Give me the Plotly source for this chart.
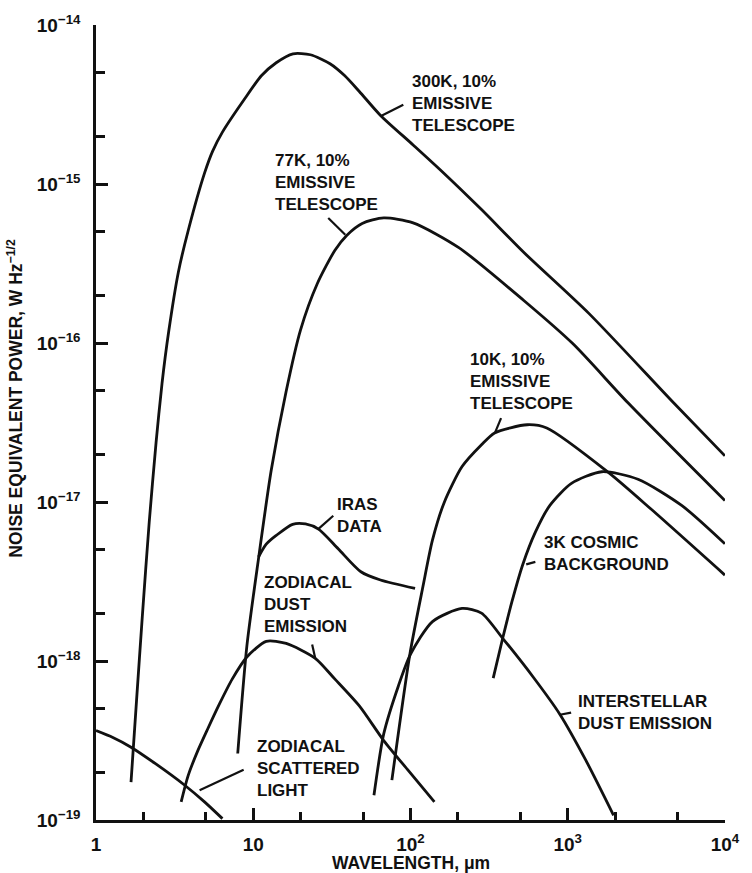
import numpy as np
import plotly.graph_objects as go

# ---- data (wavelength in micrometres, NEP in W Hz^-1/2) ----
wl_300k = [1.67, 1.81, 1.97, 2.18, 2.41, 2.63, 2.90, 3.34, 3.86, 4.90, 5.52, 6.37, 8.85, 11.3, 14.0, 17.9, 23.1,
           30.8, 38.1, 47.3, 64.5, 104, 160, 283, 525, 1368, 4732, 10000]
nep_300k = [1.73e-19, 5.61e-19, 1.90e-18, 7.46e-18, 2.36e-17, 5.58e-17, 1.18e-16, 2.79e-16, 5.10e-16,
            1.17e-15, 1.61e-15, 2.12e-15, 3.45e-15, 4.81e-15, 5.79e-15, 6.59e-15, 6.50e-15, 5.71e-15, 4.81e-15,
            3.82e-15, 2.70e-15, 1.76e-15, 1.19e-15, 6.90e-16, 3.72e-16, 1.53e-16, 4.19e-17, 1.95e-17]

wl_77k = [7.97, 9.11, 10.8, 13.0, 16.2, 20.0, 25.5, 33.1, 39.3, 49.3, 67.6, 104, 203, 526, 1077, 2427, 10000]
nep_77k = [2.62e-19, 1.24e-18, 4.39e-18, 1.57e-17, 4.97e-17, 1.21e-16, 2.35e-16, 3.83e-16, 4.75e-16,
           5.65e-16, 6.12e-16, 5.70e-16, 3.98e-16, 1.85e-16, 9.91e-17, 4.19e-17, 1.02e-17]

wl_10k = [76.2, 99.1, 120, 138, 164, 213, 283, 343, 553, 736, 1822, 3388, 10000]
nep_10k = [1.78e-19, 1.10e-18, 2.93e-18, 5.75e-18, 9.94e-18, 1.67e-17, 2.29e-17, 2.72e-17, 3.06e-17,
           2.92e-17, 1.53e-17, 9.03e-18, 3.47e-18]

wl_3k = [336, 386, 442, 517, 623, 771, 1057, 1648, 2800, 5333, 10000]
nep_3k = [7.81e-19, 1.39e-18, 2.36e-18, 4.02e-18, 6.46e-18, 9.53e-18, 1.31e-17, 1.55e-17, 1.39e-17,
          9.48e-18, 5.46e-18]

wl_ism = [58.6, 67.6, 83.8, 100, 138, 213, 283, 386, 608, 891, 1306, 1959]
nep_ism = [1.43e-19, 3.48e-19, 6.97e-19, 1.10e-18, 1.77e-18, 2.14e-18, 2.00e-18, 1.39e-18, 7.85e-19,
           4.63e-19, 2.37e-19, 1.07e-19]

wl_zodi = [3.48, 3.86, 4.45, 5.14, 6.10, 7.35, 9.11, 12.1, 16.2, 24.8, 33.1, 47.3, 67.6, 96.8, 142]
nep_zodi = [1.30e-19, 1.91e-19, 2.74e-19, 3.75e-19, 5.37e-19, 7.69e-19, 1.06e-18, 1.33e-18, 1.29e-18,
            1.04e-18, 7.69e-19, 5.22e-19, 3.16e-19, 2.05e-19, 1.30e-19]

wl_iras = [10.8, 12.1, 14.0, 17.8, 21.5, 26.0, 34.7, 48.4, 64.5, 107]
nep_iras = [4.51e-18, 5.43e-18, 6.16e-18, 7.24e-18, 7.28e-18, 6.75e-18, 5.08e-18, 3.64e-18, 3.23e-18, 2.86e-18]

wl_scat = [1.0, 1.28, 1.67, 2.39, 3.65, 4.9, 6.37]
nep_scat = [3.65e-19, 3.30e-19, 2.87e-19, 2.26e-19, 1.66e-19, 1.30e-19, 1.02e-19]

# curve labels: text, top-left anchor (wavelength, NEP), leader line ((wl0, wl1), (nep0, nep1))
label_text = [
    "300K, 10%<br>EMISSIVE<br>TELESCOPE",
    "77K, 10%<br>EMISSIVE<br>TELESCOPE",
    "10K, 10%<br>EMISSIVE<br>TELESCOPE",
    "IRAS<br>DATA",
    "ZODIACAL<br>DUST<br>EMISSION",
    "3K COSMIC<br>BACKGROUND",
    "INTERSTELLAR<br>DUST EMISSION",
    "ZODIACAL<br>SCATTERED<br>LIGHT",
]
label_wl = [99, 13.4, 232, 33.1, 11.4, 685, 1131, 10.3]
label_nep = [5.23e-15, 1.66e-15, 9.35e-17, 1.14e-17, 3.69e-18, 6.54e-18, 6.58e-19, 3.44e-19]
leader_wl = [(64.5, 90.1), (30.0, 38.5), (377, 343), (32.3, 26.0), (23.7, 24.8), (623, 545), (1052, 891), (8.69, 4.56)]
leader_nep = [(2.67e-15, 3.15e-15), (6.12e-16, 4.8e-16), (3.37e-17, 2.69e-17), (8.2e-18, 6.78e-18),
              (1.27e-18, 1.04e-18), (4.20e-18, 4.05e-18), (4.74e-19, 4.59e-19), (2.07e-19, 1.54e-19)]

x_tickvals = [1, 10, 100, 1000, 10000]
x_ticktext = ["1", "10", "10<sup>2</sup>", "10<sup>3</sup>", "10<sup>4</sup>"]
x_minor = [2, 5, 20, 50, 200, 500, 2000, 5000]
y_exponents = [-19, -18, -17, -16, -15, -14]
y_tickvals = [10.0 ** e for e in y_exponents]
y_ticktext = ["10<sup>\u2212%d</sup>" % (-e) for e in y_exponents]
y_minor = [m * 10.0 ** e for e in y_exponents[:-1] for m in (2, 5)]

FONT = "Liberation Sans, Arial, Helvetica, sans-serif"
INK = "#111111"

fig = go.Figure()
series = [(wl_300k, nep_300k), (wl_77k, nep_77k), (wl_10k, nep_10k), (wl_3k, nep_3k),
          (wl_ism, nep_ism), (wl_zodi, nep_zodi), (wl_iras, nep_iras), (wl_scat, nep_scat)]
for xs, ys in series:
    fig.add_trace(go.Scatter(x=xs, y=ys, mode="lines",
                             line=dict(color=INK, width=2.8, shape="spline", smoothing=0.7),
                             showlegend=False, hoverinfo="skip"))

for (wx, ny) in zip(leader_wl, leader_nep):
    fig.add_trace(go.Scatter(x=list(wx), y=list(ny), mode="lines",
                             line=dict(color=INK, width=2.2), showlegend=False, hoverinfo="skip"))

for t, lw, ln in zip(label_text, label_wl, label_nep):
    fig.add_annotation(x=np.log10(lw), y=np.log10(ln), xref="x", yref="y",
                       text="<b>" + t + "</b>", showarrow=False, xanchor="left", yanchor="top",
                       align="left", font=dict(family=FONT, size=17, color=INK))

axis_common = dict(type="log", showline=True, linecolor=INK, linewidth=2.5, mirror=False,
                   showgrid=False, zeroline=False, ticks="inside", ticklen=12, tickwidth=2.5,
                   tickcolor=INK, tickmode="array", ticklabeloverflow="allow",
                   tickfont=dict(family=FONT, size=19, color=INK, weight="bold"))

fig.update_xaxes(range=[0, 4.0006], tickvals=x_tickvals, ticktext=["<b>%s</b>" % t for t in x_ticktext],
                 minor=dict(tickmode="array", tickvals=x_minor, ticks="inside", ticklen=8,
                            tickwidth=2.5, tickcolor=INK),
                 ticklabelstandoff=5, **axis_common)
fig.update_yaxes(range=[-19, -14], tickvals=y_tickvals, ticktext=["<b>%s</b>" % t for t in y_ticktext],
                 minor=dict(tickmode="array", tickvals=y_minor, ticks="inside", ticklen=9,
                            tickwidth=2.5, tickcolor=INK),
                 ticklabelstandoff=9, **axis_common)

fig.add_annotation(x=0.5, y=-0.054, xref="paper", yref="paper", showarrow=False,
                   text="<b>WAVELENGTH, \u03bcm</b>", xanchor="center", yanchor="middle",
                   font=dict(family=FONT, size=17.5, color=INK))
fig.add_annotation(x=-0.129, y=0.531, xref="paper", yref="paper", showarrow=False, textangle=-90,
                   text="<b>NOISE EQUIVALENT POWER, W Hz<sup>\u22121/2</sup></b>",
                   xanchor="center", yanchor="middle",
                   font=dict(family=FONT, size=17.5, color=INK))

fig.update_layout(width=752, height=873, margin=dict(l=96, r=13, t=19, b=53),
                  paper_bgcolor="white", plot_bgcolor="white", showlegend=False,
                  font=dict(family=FONT, color=INK))

fig.write_html("out.html", config={"displayModeBar": False},
               post_script="document.body.style.margin='0px';document.body.style.overflow='hidden';")
